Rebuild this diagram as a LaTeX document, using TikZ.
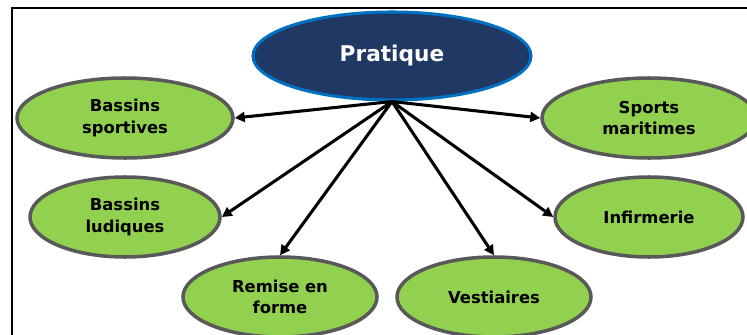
\documentclass[tikz,border=0pt]{standalone}
\usepackage{fontspec}
\setmainfont{DejaVu Sans}
\usetikzlibrary{shapes.geometric,arrows.meta}

\definecolor{navy}{HTML}{203864}
\definecolor{rim}{HTML}{0070C0}
\definecolor{leaf}{HTML}{92D050}
\definecolor{edge}{HTML}{595959}

\tikzset{
  topic/.style={ellipse, draw=rim, fill=navy, line width=2.6pt,
                text=white, font=\bfseries\fontsize{18.5}{22}\selectfont,
                minimum width=#1, minimum height=88*0.03cm, inner sep=0pt},
  topic/.default={278*0.03cm},
  theme/.style={ellipse, draw=edge, fill=leaf, line width=3pt,
                align=center, font=\bfseries\fontsize{14}{18.5}\selectfont,
                minimum width=#1, minimum height=80*0.03cm, inner sep=0pt},
  theme/.default={194*0.03cm}, % usual width of a green ellipse
  link/.style={line width=2.6pt, -{Triangle[length=8.5pt,width=8.5pt]}},
}

\begin{document}
\begin{tikzpicture}[x=0.03cm,y=-0.03cm]
  \useasboundingbox (0,0) rectangle (747,335);
  % frame, cut off on the right and at the bottom
  \draw[line width=1.8pt] (12,340) -- (12,8) -- (750,8);
  % main topic
  \node[topic] (pratique) at (392,56) {Pratique};
  % themes
  \node[theme=216*0.03cm] (sportives) at (125,118) {Bassins\\sportives};
  \node[theme=190*0.03cm] (ludiques) at (125,217) {Bassins\\ludiques};
  \node[theme=214*0.03cm] (maritimes) at (649,118) {Sports\\maritimes};
  \node[theme=188*0.03cm] (infirmerie) at (649,217) {Infirmerie};
  \node[theme] (remise) at (280,297) {Remise en\\forme};
  \node[theme] (vestiaires) at (494,297) {Vestiaires};
  % connect topic to themes
  \draw[link] (pratique.south) -- (sportives.east);
  \draw[link] (pratique.south) -- (ludiques.east);
  \draw[link] (pratique.south) -- (maritimes.west);
  \draw[link] (pratique.south) -- (infirmerie.west);
  \draw[link] (pratique.south) -- (remise.north);
  \draw[link] (pratique.south) -- (vestiaires.north);
\end{tikzpicture}
\end{document}
